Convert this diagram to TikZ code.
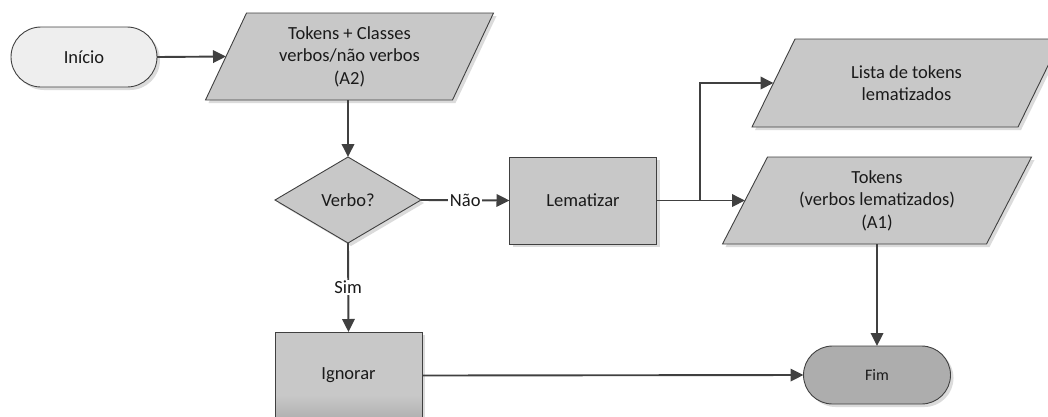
\documentclass[tikz,border=0pt]{standalone}
\usepackage{fontspec}
\setmainfont{Carlito}
\usetikzlibrary{arrows.meta,shapes.geometric,shadows,backgrounds,calc}

\definecolor{edgegray}{HTML}{404040}
\definecolor{boxgray}{HTML}{C8C8C8}
\definecolor{fadegray}{HTML}{B0B0B0}
\definecolor{startgray}{HTML}{EEEEEE}
\definecolor{endgray}{HTML}{ADADAD}
\definecolor{txt}{HTML}{1A1A1A}

% box fill that darkens slightly towards its lower edge
\pgfdeclareverticalshading{lowfade}{100bp}{%
  color(0bp)=(fadegray); color(25bp)=(fadegray);
  color(39bp)=(boxgray); color(100bp)=(boxgray)}

\tikzset{
  base/.style={draw=edgegray, line width=0.9pt, text=txt, inner sep=0pt, outer sep=0pt,
    font=\fontsize{18.5pt}{22.5pt}\selectfont, align=center,
    drop shadow={shadow xshift=3pt, shadow yshift=-3pt, fill=black!14, opacity=1}},
  terminal/.style={base, rectangle, rounded corners=#1},
  procbox/.style={base, rectangle, fill=boxgray},
  fadebox/.style={base, rectangle, shading=lowfade},
  decision/.style={base, diamond, fill=boxgray, aspect=1.7},
  paratext/.style={rectangle, inner sep=0pt, outer sep=0pt, text=txt, align=center,
    font=\fontsize{18.5pt}{22.5pt}\selectfont},
  parashape/.style={draw=edgegray, line width=0.9pt, fill=boxgray,
    drop shadow={shadow xshift=3pt, shadow yshift=-3pt, fill=black!14, opacity=1}},
  conn/.style={draw=edgegray, line width=1.9pt, -{Triangle[length=13pt, width=12.5pt]}},
  wire/.style={draw=edgegray, line width=1.9pt},
  edgelabel/.style={fill=white, inner sep=1.5pt, text=txt,
    font=\fontsize{18.5pt}{22.5pt}\selectfont}
}

% data box: named text node with a parallelogram behind it
% #1 name, #2 x, #3 y, #4 body width, #5 slant, #6 height, #7 text
\newcommand\parabox[7]{%
  \node[paratext, minimum width=#4, minimum height=#6] (#1) at (#2,#3) {#7};
  \begin{pgfonlayer}{background}
    \path[parashape]
      ([xshift=#5/2]#1.north west) -- ([xshift=#5/2]#1.north east) --
      ([xshift=-#5/2]#1.south east) -- ([xshift=-#5/2]#1.south west) -- cycle;
  \end{pgfonlayer}}

\begin{document}
\begin{tikzpicture}[x=1pt, y=-1pt]
  \useasboundingbox (0,0) rectangle (1048,416);

  % terminals
  \node[terminal=30pt, fill=startgray, minimum width=146pt, minimum height=60pt]
    (start) at (84,57) {Início};
  \node[terminal=29pt, fill=endgray, minimum width=147pt, minimum height=58pt,
    font=\fontsize{16pt}{19pt}\selectfont]
    (fim) at (877,375) {Fim};

  % data
  \parabox{input}{349.5}{56.5}{247pt}{41pt}{87pt}{Tokens + Classes\\verbos/não verbos\\(A2)}
  \parabox{lista}{906.5}{83}{266pt}{43pt}{88pt}{Lista de tokens\\lematizados}
  \parabox{tokens}{877}{200.5}{264pt}{45pt}{87pt}{Tokens\\(verbos lematizados)\\(A1)}

  % decision and processes
  \node[decision, minimum width=146pt, minimum height=86pt] (verbo) at (348,200) {Verbo?};
  \node[procbox, minimum width=147pt, minimum height=87pt] (lem) at (583,200.5) {Lematizar};
  \node[fadebox, minimum width=147pt, minimum height=87pt] (ign) at (348.5,375.5) {Ignorar};

  \coordinate (split) at (700,200.5);

  % connectors
  \draw[conn] (start.east) -- (input.west);
  \draw[conn] (input.south -| verbo.north) -- (verbo.north);
  \draw[conn] (verbo.east) -- node[edgelabel] {Não} (lem.west);
  \draw[wire] (lem.east) -- (split);
  \draw[conn] (split) |- (lista.west);
  \draw[conn] (split) -- (tokens.west);
  \draw[conn] (verbo.south) -- node[edgelabel] {Sim} (ign.north);
  \draw[conn] (tokens.south) -- (fim.north);
  \draw[conn] (ign.east) -- (fim.west);
\end{tikzpicture}
\end{document}
